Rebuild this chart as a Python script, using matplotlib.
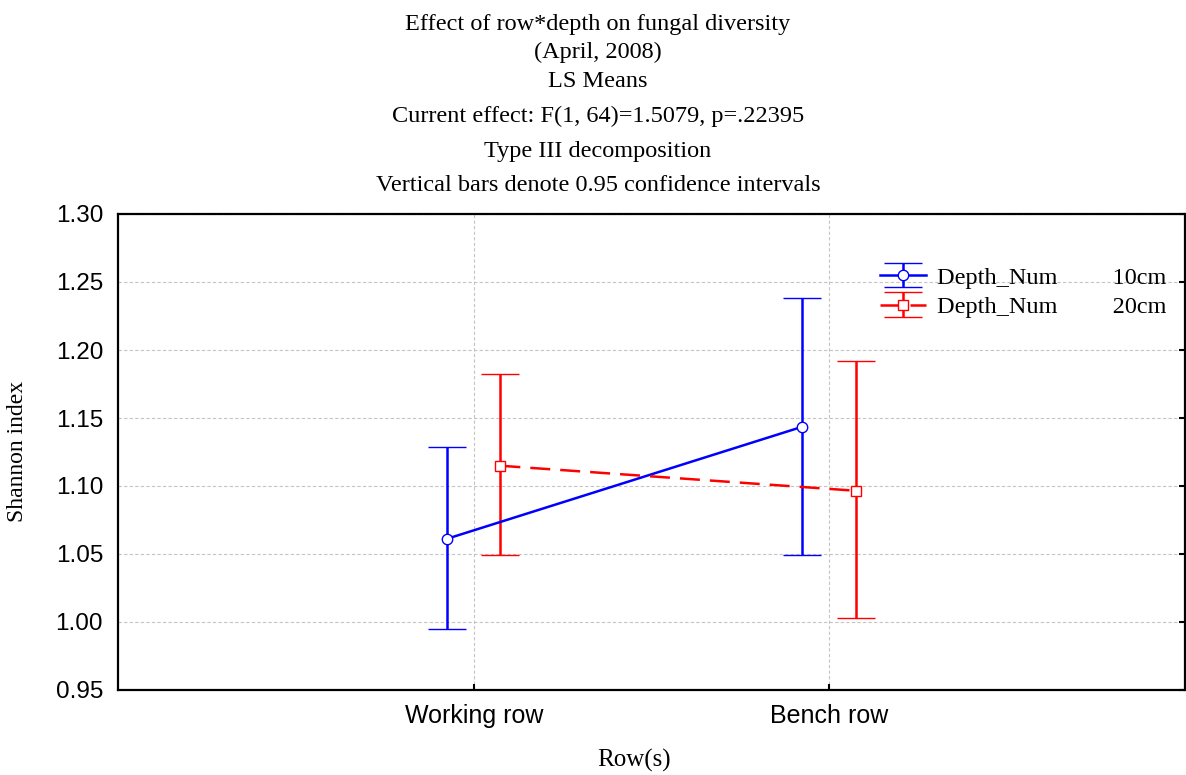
import numpy as np
import matplotlib
matplotlib.use("Agg")
import matplotlib.pyplot as plt

# LS means of the Shannon index and their 0.95 confidence limits
rows = ["Working row", "Bench row"]
depth_labels = ["Depth_Num", "Depth_Num"]
depth_values = ["10cm", "20cm"]

mean_10cm = [1.0612, 1.1436]
low_10cm = [0.9949, 1.0490]
high_10cm = [1.1284, 1.2385]

mean_20cm = [1.1149, 1.0965]
low_20cm = [1.0490, 1.0026]
high_20cm = [1.1826, 1.1916]

yticks = [0.95, 1.00, 1.05, 1.10, 1.15, 1.20, 1.25, 1.30]

titre = [
    "Effect of row*depth on fungal diversity",
    "(April, 2008)",
    "LS Means",
    "Current effect: F(1, 64)=1.5079, p=.22395",
    "Type III decomposition",
    "Vertical bars denote 0.95 confidence intervals",
]

serif = "Liberation Serif"
sans = "Liberation Sans"

W, H = 1186, 775
fig = plt.figure(figsize=(W / 100, H / 100), dpi=100)
ax = fig.add_axes([118.3 / W, (H - 690) / H, (1184.5 - 118.3) / W, (690 - 214) / H])

x = np.arange(1, len(rows) + 1)
decal = 0.075

m1 = np.array(mean_10cm)
m2 = np.array(mean_20cm)
err1 = [m1 - np.array(low_10cm), np.array(high_10cm) - m1]
err2 = [m2 - np.array(low_20cm), np.array(high_20cm) - m2]

lw = 1.8
e1 = ax.errorbar(x - decal, m1, yerr=err1, color="#0000ff", lw=lw, elinewidth=lw,
                 capsize=13.5, capthick=lw, marker="o", ms=7.5, mfc="white", mec="#0000ff",
                 mew=1.0, zorder=3)
e2 = ax.errorbar(x + decal, m2, yerr=err2, color="#ff0000", lw=lw, elinewidth=lw,
                 capsize=13.5, capthick=lw, marker="s", ms=7.5, mfc="white", mec="#ff0000",
                 mew=1.0, ls=(0, (8, 4)), zorder=3)

ax.set_xlim(0, 3)
ax.set_ylim(0.95, 1.30)
ax.set_xticks(x)
ax.set_xticklabels(rows, fontfamily=sans, fontsize=18)
ax.set_yticks(yticks)
ax.set_yticklabels([f"{v:.2f}" for v in yticks], fontfamily=sans, fontsize=17.5)

ax.tick_params(axis="y", left=False, right=True, direction="in", length=4, width=1.5, pad=11)
ax.tick_params(axis="x", bottom=True, direction="in", length=4, width=1.5, pad=10)
ax.grid(True, color="#c4c4c4", ls=(0, (3, 2)), lw=0.8)
ax.set_axisbelow(True)
for s in ax.spines.values():
    s.set_linewidth(1.6)
    s.set_color("black")

leg = ax.legend([e1, e2],
                [f"{a}         {b}" for a, b in zip(depth_labels, depth_values)],
                loc="upper right", bbox_to_anchor=(1.004, 0.935), frameon=False,
                prop={"family": serif, "size": 17.5}, handlelength=1.9,
                handletextpad=0.45, labelspacing=0.3)

# titre sur plusieurs lignes
bases = [30, 58, 87, 122, 157, 191]
for t, b in zip(titre, bases):
    fig.text(598 / W, 1 - b / H, t, ha="center", va="baseline", fontfamily=serif, fontsize=17.5)

fig.text(18 / W, 1 - 451 / H, "Shannon index", rotation=90, ha="center", va="center",
         fontfamily=serif, fontsize=17)
fig.text(634 / W, 1 - 760 / H, "Row(s)", ha="center", va="center",
         fontfamily=serif, fontsize=18)

fig.savefig("out.png", dpi=100)
